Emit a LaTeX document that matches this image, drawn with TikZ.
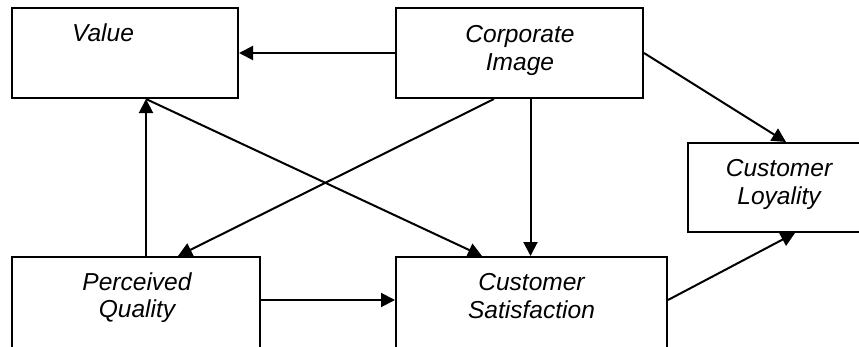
\documentclass[tikz,border=0pt]{standalone}
\usepackage{fontspec}
\setmainfont{Liberation Sans}
\usetikzlibrary{arrows.meta,calc}
\begin{document}
\begin{tikzpicture}[x=0.75pt,y=-0.75pt,
  box/.style={draw=black,line width=1.5pt,rectangle,inner sep=0pt,fill=white},
  lbl/.style={font=\fontsize{18.4pt}{20.6pt}\selectfont\itshape,align=center,inner sep=0pt,anchor=base},
  link/.style={line width=1.5pt,-{Triangle[length=10.5pt,width=10.5pt]}}]
\useasboundingbox (0,0) rectangle (859,346);
\clip (0,0) rectangle (859,346);
% boxes (the lower ones run past the bottom border)
\node[box,minimum width=169.5pt,minimum height=67.5pt] (val) at (125,53) {};
\node[box,minimum width=185.25pt,minimum height=67.5pt] (ci) at (519.5,53) {};
\node[box,minimum width=129pt,minimum height=66.75pt] (cl) at (774,187.5) {};
\node[box,minimum width=186pt,minimum height=84.75pt] (pq) at (136,313.5) {};
\node[box,minimum width=203.25pt,minimum height=84.75pt] (cs) at (531.5,313.5) {};
% labels (base anchor sits on the last line)
\node[lbl] (valt) at (103,42) {Value};
\node[lbl] (cit) at (520,70) {Corporate\\Image};
\node[lbl] (clt) at (779,204) {Customer\\Loyality};
\node[lbl] (pqt) at (137,317.5) {Perceived\\Quality};
\node[lbl] (cst) at (531.5,318) {Customer\\Satisfaction};
% connectors
\draw[link] (ci.west) -- (val.east);
\draw[link] ($(pq.north west)+(135,0)$) -- ($(val.south west)+(135,0)$);
\draw[link] ($(val.south west)+(135,0)$) -- ($(cs.north west)+(87,0)$);
\draw[link] ($(ci.south west)+(99,0)$) -- ($(pq.north west)+(167,0)$);
\draw[link] ($(ci.south west)+(135.5,0)$) -- ($(cs.north west)+(135.5,0)$);
\draw[link] (ci.east) -- ($(cl.north west)+(99,0)$);
\draw[link] ($(cs.north east)+(0,44)$) -- ($(cl.south west)+(108,0)$);
\draw[link] ($(pq.north east)+(0,44)$) -- ($(cs.north west)+(0,44)$);
\end{tikzpicture}
\end{document}
